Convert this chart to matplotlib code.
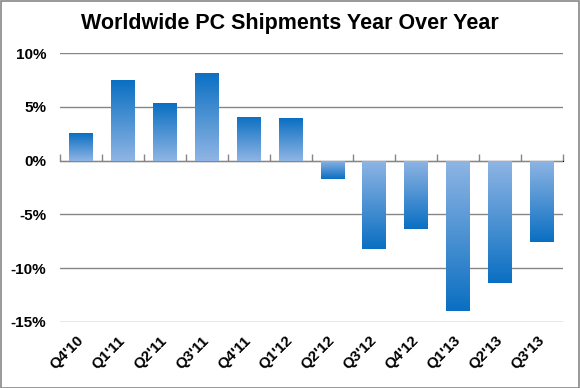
import numpy as np
import matplotlib.pyplot as plt
from matplotlib.colors import LinearSegmentedColormap
from matplotlib.patches import Rectangle

quarters = ["Q4'10", "Q1'11", "Q2'11", "Q3'11", "Q4'11", "Q1'12",
            "Q2'12", "Q3'12", "Q4'12", "Q1'13", "Q2'13", "Q3'13"]
growth = [2.6, 7.5, 5.4, 8.2, 4.1, 4.0, -1.7, -8.2, -6.4, -14.0, -11.4, -7.6]
yticks = [-15, -10, -5, 0, 5, 10]

plt.rcParams['font.family'] = ['Liberation Sans', 'DejaVu Sans']

# light near zero, dark at the bar end
cmap = LinearSegmentedColormap.from_list("bar", ["#8fb5e4", "#0a6fc2"])

fig = plt.figure(figsize=(5.8, 3.88), dpi=100)
ax = fig.add_axes([60/580, 1 - 321.7/388, 503/580, (321.7 - 53.3)/388])

x = np.arange(len(quarters))
bars = ax.bar(x, growth, width=0.57, color='none', zorder=3)

grad = np.linspace(0, 1, 256).reshape(-1, 1)
for b, v in zip(bars, growth):
    x0 = b.get_x()
    x1 = x0 + b.get_width()
    img = grad if v >= 0 else grad[::-1]
    im = ax.imshow(img, cmap=cmap, aspect='auto', origin='lower',
                   extent=[x0, x1, min(0, v), max(0, v)], zorder=3)
    im.set_clip_path(b)

ax.set_xlim(-0.5, len(quarters) - 0.5)
ax.set_ylim(-15, 10)
ax.set_yticks(yticks)
ax.set_yticklabels([f"{t}%" for t in yticks], fontsize=11, fontweight='bold')
ax.tick_params(axis='y', length=0, pad=10)
ax.yaxis.grid(True, color='#868686', linewidth=1.0, zorder=0)
ax.set_axisbelow(True)

ax.set_xticks(x)
ax.set_xticklabels(quarters, fontsize=11, fontweight='bold', rotation=45,
                   ha='right', va='center', rotation_mode='anchor')
ax.tick_params(axis='x', length=0, pad=12)

for s in ax.spines.values():
    s.set_visible(False)

# category axis crossing at zero with tick marks between categories
zero = (0 - ax.get_ylim()[0]) / (ax.get_ylim()[1] - ax.get_ylim()[0])
sec = ax.secondary_xaxis(zero)
sec.set_xticks(np.arange(-0.5, len(quarters)), labels=[])
sec.tick_params(axis='x', direction='out', length=5, color='#868686', width=1)
sec.spines['bottom'].set_color('#868686')
sec.spines['bottom'].set_linewidth(1)

fig.text(0.5, 1 - 23/388, "Worldwide PC Shipments Year Over Year",
         ha='center', va='center', fontsize=15.5, fontweight='bold')

fig.add_artist(Rectangle((0.001, 0.001), 0.997, 0.997, transform=fig.transFigure,
                         fill=False, edgecolor='#888888', linewidth=1.2))

fig.savefig("out.png", dpi=100)
